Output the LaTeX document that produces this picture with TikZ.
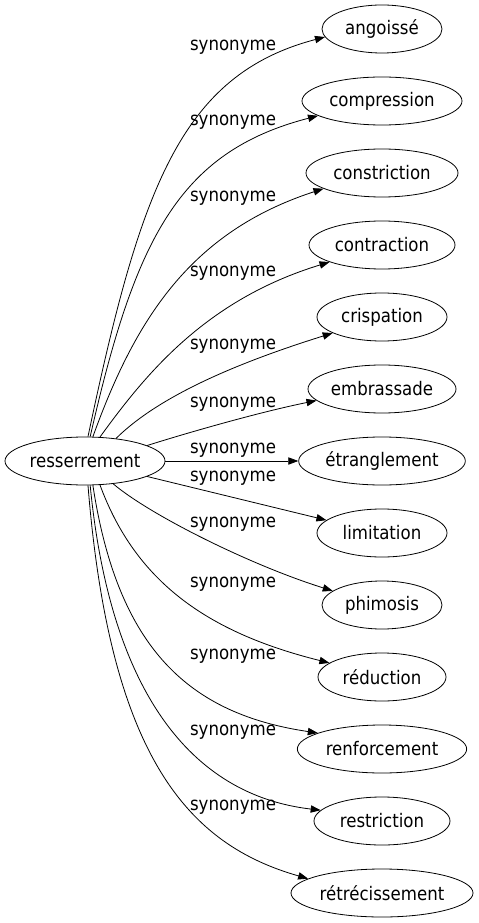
\documentclass[tikz,border=0pt]{standalone}
\usepackage{fontspec}
\setmainfont{DejaVu Sans}[FakeStretch=0.89]
\usetikzlibrary{arrows.meta,shapes.geometric}

\begin{document}
\begin{tikzpicture}[x=0.75pt,y=-0.75pt]
			\tikzstyle{every node}+=[inner sep=0pt, font=\fontsize{14}{17}\selectfont]
			\tikzstyle{word}=[draw, ellipse, line width=0.6pt, minimum height=36pt]
			\tikzstyle{syn}=[line width=0.6pt, -{Triangle[length=7.5pt,width=5.5pt]}]
			\useasboundingbox (0,0) rectangle (478,923);
			\node[word, minimum width=120pt] (res) at (85,461) {resserrement};
			\node[word, minimum width=90pt] (ang) at (382,29) {angoissé};
			\node[word, minimum width=120pt] (comp) at (382,101) {compression};
			\node[word, minimum width=114pt] (constr) at (382,173) {constriction};
			\node[word, minimum width=109.5pt] (contr) at (382,245) {contraction};
			\node[word, minimum width=97.5pt] (crisp) at (382,317) {crispation};
			\node[word, minimum width=111pt] (embr) at (382,389) {embrassade};
			\node[word, minimum width=125pt] (etr) at (382,461) {étranglement};
			\node[word, minimum width=97.5pt] (lim) at (382,533) {limitation};
			\node[word, minimum width=90pt] (phim) at (382,605) {phimosis};
			\node[word, minimum width=96pt] (red) at (382,677) {réduction};
			\node[word, minimum width=127pt] (renf) at (382,749) {renforcement};
			\node[word, minimum width=102pt] (restr) at (382,821) {restriction};
			\node[word, minimum width=136.5pt] (retr) at (382,893) {rétrécissement};
			\node (s1) at (233,47) {synonyme};
			\node (s2) at (233,122) {synonyme};
			\node (s3) at (233,198) {synonyme};
			\node (s4) at (233,273) {synonyme};
			\node (s5) at (233,346) {synonyme};
			\node (s6) at (233,404) {synonyme};
			\node (s7) at (233,450) {synonyme};
			\node (s8) at (233,478) {synonyme};
			\node (s9) at (233,524) {synonyme};
			\node (s10) at (233,584) {synonyme};
			\node (s11) at (233,656) {synonyme};
			\node (s12) at (233,732) {synonyme};
			\node (s13) at (233,807) {synonyme};
			\draw[syn] (res.83) .. controls (140,190) and (180,75) .. (ang.188);
			\draw[syn] (res.78) .. controls (135,240) and (178,152) .. (comp.193);
			\draw[syn] (res.72) .. controls (135,320) and (190,232) .. (constr.195);
			\draw[syn] (res.58) .. controls (145,375) and (205,300) .. (contr.198);
			\draw[syn] (res.36) .. controls (160,395) and (240,362) .. (crisp.198);
			\draw[syn] (res.14) .. controls (190,432) and (260,412) .. (embr.190);
			\draw[syn] (res) -- (etr);
			\draw[syn] (res.-14) -- (lim.167);
			\draw[syn] (res.-39) .. controls (150,515) and (250,565) .. (phim.164);
			\draw[syn] (res.-58) .. controls (135,580) and (205,632) .. (red.165);
			\draw[syn] (res.-72) .. controls (118,650) and (190,714) .. (renf.166);
			\draw[syn] (res.-78) .. controls (110,690) and (190,795) .. (restr.170);
			\draw[syn] (res.-83) .. controls (110,760) and (190,845) .. (retr.169);
\end{tikzpicture}
\end{document}
